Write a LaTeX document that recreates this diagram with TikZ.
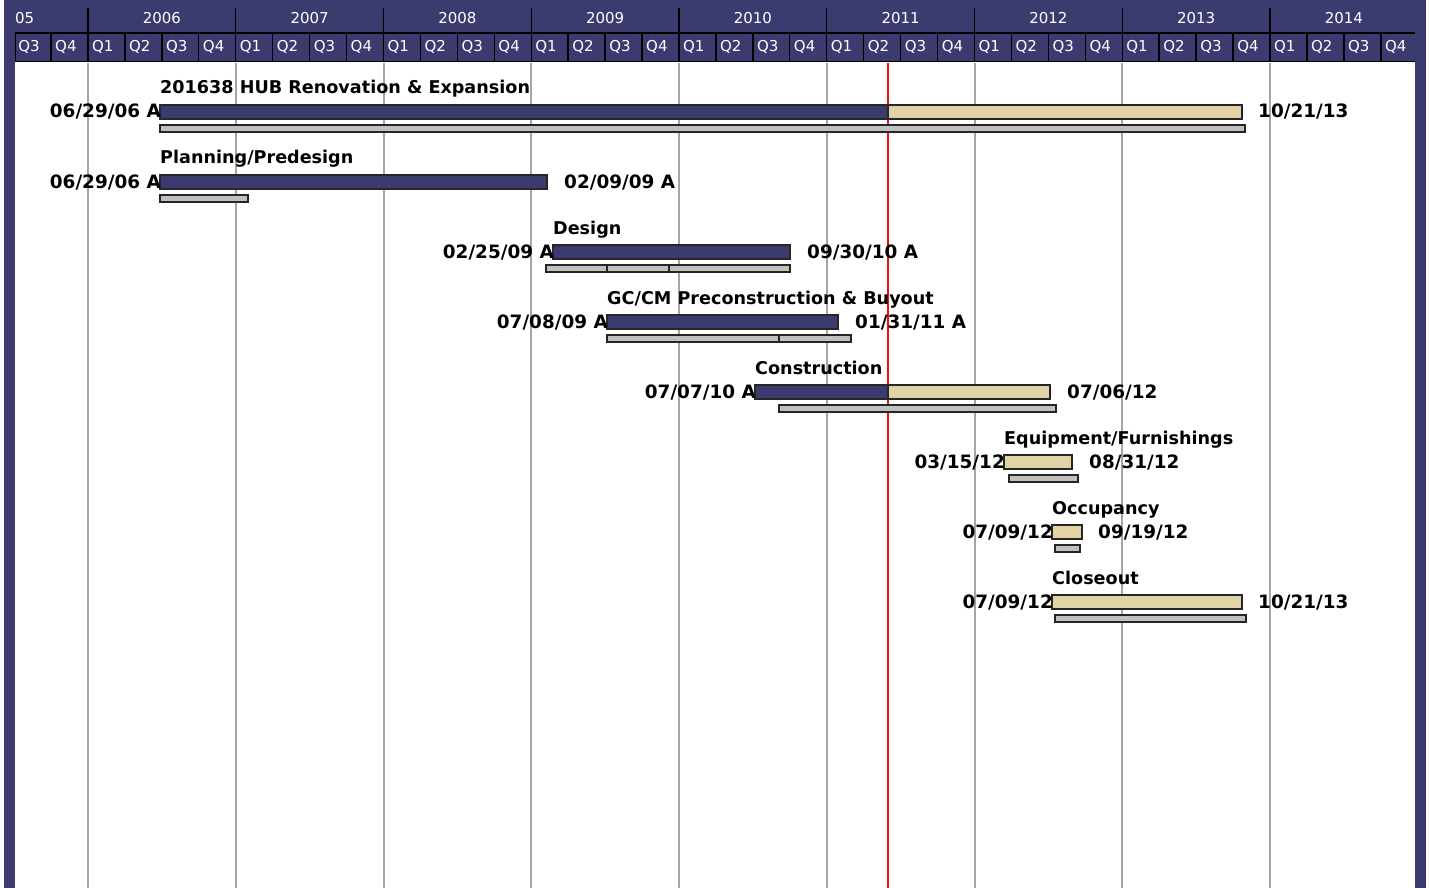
\documentclass[tikz,border=0pt]{standalone}
\usepackage{fontspec}
\setmainfont{DejaVu Sans}
\definecolor{navy}{RGB}{59,59,112}
\definecolor{tan}{RGB}{226,211,166}
\definecolor{basegray}{RGB}{192,192,192}
\definecolor{gridgray}{RGB}{165,165,165}
\definecolor{todayred}{RGB}{235,20,20}
\begin{document}
\begin{tikzpicture}[x=1pt,y=-1pt,
  hdr/.style={text=white,inner sep=0,font=\fontsize{15}{15}\selectfont},
  hdrline/.style={black,line width=1.4pt},
  gridline/.style={gridgray,line width=2pt},
  today/.style={todayred,line width=1.6pt},
  actual/.style={fill=navy,draw=black!85,line width=1.4pt},
  remain/.style={fill=tan,draw=black!85,line width=1.4pt},
  baseline/.style={fill=basegray,draw=black!85,line width=1.2pt},
  tasklabel/.style={anchor=base west,inner sep=0,font=\fontsize{17.6}{18}\selectfont\bfseries},
  datel/.style={anchor=base east,inner sep=0,font=\fontsize{18.4}{18}\selectfont\bfseries},
  dater/.style={anchor=base west,inner sep=0,font=\fontsize{18.4}{18}\selectfont\bfseries}]
\useasboundingbox (0,0) rectangle (1429,888);
\fill[white] (0,0) rectangle (1429,888);
% frame and chart area
\fill[navy] (4,0) rectangle (1426,888);
\fill[white] (15,62) rectangle (1415,888);

% timescale header
\node[hdr,anchor=west] (yr2005) at (15,18) {05};
\foreach \y in {2006,...,2014}{
  \pgfmathsetmacro{\xa}{88+(\y-2006)*147.75}
  \node[hdr] (yr\y) at (\xa+73.9,18) {\y};
  \draw[hdrline] (\xa,8) -- (\xa,33);
}
\begin{scope}
\clip (15,0) rectangle (1415,62);
\foreach \k in {0,...,37}{
  \pgfmathsetmacro{\xq}{14.1+\k*36.9375}
  \pgfmathtruncatemacro{\qn}{mod(\k+2,4)+1}
  \draw[hdrline] (\xq,33) -- (\xq,62);
  \node[hdr,anchor=west] (q\k) at (\xq+4,47) {Q\qn};
}
\draw[hdrline] (15,33) -- (1415,33);
\draw[hdrline] (15,62) -- (1415,62);
\draw[hdrline] (15,33) -- (15,62);
\end{scope}

% year grid lines and data date
\foreach \y in {2006,...,2014}{
  \pgfmathsetmacro{\xa}{88+(\y-2006)*147.75}
  \draw[gridline] (\xa,63) -- (\xa,888);
}
\draw[today] (888,63) -- (888,888);

% 1: 201638 HUB Renovation & Expansion
\node[tasklabel] (t1) at (160,94) {201638 HUB Renovation \& Expansion};
\draw[actual] (160,105) rectangle (888,119);
\draw[remain] (888,105) rectangle (1242,119);
\draw[baseline] (160,125) rectangle (1245,132);
\node[datel] (s1) at (161,118) {06/29/06 A};
\node[dater] (f1) at (1258,118) {10/21/13};

% 2: Planning/Predesign
\node[tasklabel] (t2) at (160,164) {Planning/Predesign};
\draw[actual] (160,175) rectangle (547,189);
\draw[baseline] (160,195) rectangle (248,202);
\node[datel] (s2) at (161,188) {06/29/06 A};
\node[dater] (f2) at (564,188) {02/09/09 A};

% 3: Design
\node[tasklabel] (t3) at (553,234) {Design};
\draw[actual] (553,245) rectangle (790,259);
\draw[baseline] (546,265) rectangle (607,272);
\draw[baseline] (607,265) rectangle (669,272);
\draw[baseline] (669,265) rectangle (790,272);
\node[datel] (s3) at (554,258) {02/25/09 A};
\node[dater] (f3) at (807,258) {09/30/10 A};

% 4: GC/CM Preconstruction & Buyout
\node[tasklabel] (t4) at (607,304) {GC/CM Preconstruction \& Buyout};
\draw[actual] (607,315) rectangle (838,329);
\draw[baseline] (607,335) rectangle (779,342);
\draw[baseline] (779,335) rectangle (851,342);
\node[datel] (s4) at (608,328) {07/08/09 A};
\node[dater] (f4) at (855,328) {01/31/11 A};

% 5: Construction
\node[tasklabel] (t5) at (755,374) {Construction};
\draw[actual] (755,385) rectangle (888,399);
\draw[remain] (888,385) rectangle (1050,399);
\draw[baseline] (779,405) rectangle (1056,412);
\node[datel] (s5) at (756,398) {07/07/10 A};
\node[dater] (f5) at (1067,398) {07/06/12};

% 6: Equipment/Furnishings
\node[tasklabel] (t6) at (1004,444) {Equipment/Furnishings};
\draw[remain] (1004,455) rectangle (1072,469);
\draw[baseline] (1009,475) rectangle (1078,482);
\node[datel] (s6) at (1005,468) {03/15/12};
\node[dater] (f6) at (1089,468) {08/31/12};

% 7: Occupancy
\node[tasklabel] (t7) at (1052,514) {Occupancy};
\draw[remain] (1052,525) rectangle (1082,539);
\draw[baseline] (1055,545) rectangle (1080,552);
\node[datel] (s7) at (1053,538) {07/09/12};
\node[dater] (f7) at (1098,538) {09/19/12};

% 8: Closeout
\node[tasklabel] (t8) at (1052,584) {Closeout};
\draw[remain] (1052,595) rectangle (1242,609);
\draw[baseline] (1055,615) rectangle (1246,622);
\node[datel] (s8) at (1053,608) {07/09/12};
\node[dater] (f8) at (1258,608) {10/21/13};
\end{tikzpicture}
\end{document}
